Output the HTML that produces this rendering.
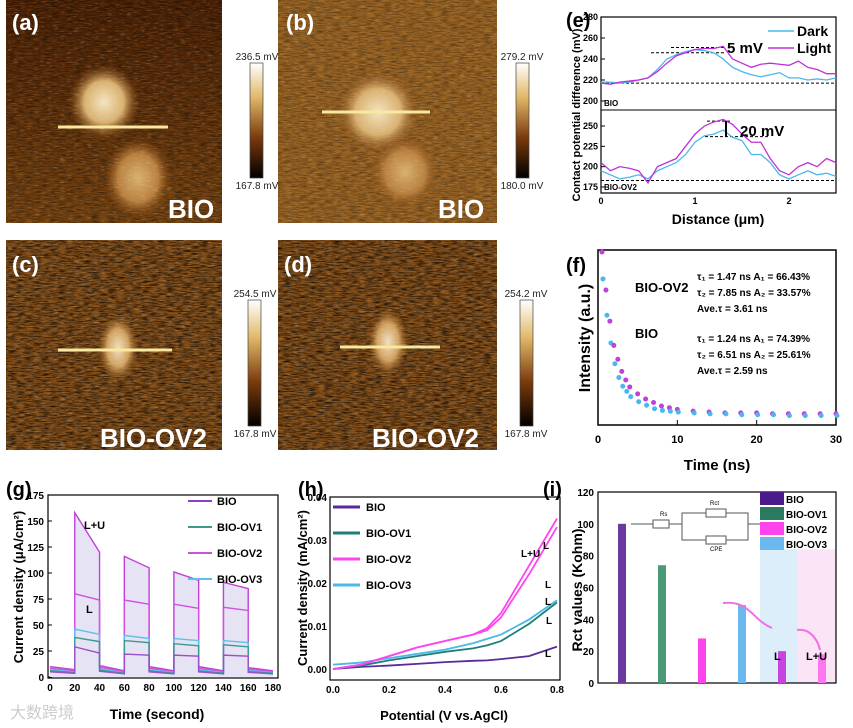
<!DOCTYPE html>
<html><head><meta charset="utf-8"><style>
body{margin:0;background:#fff;width:853px;height:723px;overflow:hidden;font-family:"Liberation Sans",sans-serif}
svg text{font-family:"Liberation Sans","Noto Sans CJK SC",sans-serif}
</style></head><body>
<svg id="s" width="853" height="723" viewBox="0 0 853 723">
<defs>
<filter id="noise" x="0" y="0" width="100%" height="100%"><feTurbulence type="fractalNoise" baseFrequency="0.12 0.8" numOctaves="3" seed="3"/><feColorMatrix values="0 0 0 0 0  0 0 0 0 0  0 0 0 0 0  1.6 0 0 0 -0.55"/></filter>
<filter id="noise2" x="0" y="0" width="100%" height="100%"><feTurbulence type="fractalNoise" baseFrequency="0.15 0.9" numOctaves="2" seed="9"/><feColorMatrix values="0 0 0 0 1  0 0 0 0 0.8  0 0 0 0 0.45  2 0 0 0 -1.1"/></filter>
<radialGradient id="blobA" cx="0.5" cy="0.5" r="0.5"><stop offset="0" stop-color="#f4e4c0"/><stop offset="0.55" stop-color="#d8b070"/><stop offset="1" stop-color="#8a4a10" stop-opacity="0"/></radialGradient>
<radialGradient id="blobB" cx="0.5" cy="0.5" r="0.5"><stop offset="0" stop-color="#d8b070"/><stop offset="0.6" stop-color="#b88040"/><stop offset="1" stop-color="#8a4a10" stop-opacity="0"/></radialGradient>
<radialGradient id="blobC" cx="0.5" cy="0.5" r="0.5"><stop offset="0" stop-color="#f0e0c0"/><stop offset="0.55" stop-color="#d0a060"/><stop offset="1" stop-color="#9a5c18" stop-opacity="0"/></radialGradient>
<linearGradient id="shadeA" x1="0" y1="0" x2="0" y2="1"><stop offset="0" stop-color="#4e2206"/><stop offset="1" stop-color="#7a4612"/></linearGradient>
<linearGradient id="cbar" x1="0" y1="0" x2="0" y2="1"><stop offset="0" stop-color="#ffffff"/><stop offset="0.3" stop-color="#e0b868"/><stop offset="0.65" stop-color="#7a3a0c"/><stop offset="1" stop-color="#000"/></linearGradient>
</defs>

<g>
<rect x="6" y="0" width="216" height="223" fill="url(#shadeA)"/><rect x="6" y="0" width="216" height="223" filter="url(#noise)" opacity="0.6"/>
<ellipse cx="104" cy="102" rx="36" ry="38" fill="url(#blobA)"/><ellipse cx="138" cy="178" rx="34" ry="40" fill="url(#blobB)"/>
<rect x="6" y="0" width="216" height="223" filter="url(#noise2)" opacity="0.4"/>
<line x1="58" y1="127" x2="168" y2="127" stroke="#f8e8a0" stroke-width="3"/>
<text x="12" y="30" fill="#fff" font-size="22" font-weight="bold">(a)</text>
<text x="168" y="218" fill="#fff" font-size="26" font-weight="bold">BIO</text></g>
<g>
<rect x="278" y="0" width="219" height="223" fill="#9a6424"/><rect x="278" y="0" width="219" height="223" filter="url(#noise)" opacity="0.5"/>
<ellipse cx="378" cy="112" rx="42" ry="42" fill="url(#blobA)"/><ellipse cx="405" cy="172" rx="34" ry="36" fill="url(#blobB)"/>
<rect x="278" y="0" width="219" height="223" filter="url(#noise2)" opacity="0.4"/>
<line x1="322" y1="112" x2="430" y2="112" stroke="#f8e8a0" stroke-width="3"/>
<text x="286" y="30" fill="#fff" font-size="22" font-weight="bold">(b)</text>
<text x="438" y="218" fill="#fff" font-size="26" font-weight="bold">BIO</text></g>
<g>
<rect x="6" y="240" width="216" height="210" fill="#86501a"/><rect x="6" y="240" width="216" height="210" filter="url(#noise)"/>
<ellipse cx="118" cy="348" rx="20" ry="34" fill="url(#blobC)"/>
<rect x="6" y="240" width="216" height="210" filter="url(#noise2)" opacity="0.5"/>
<line x1="58" y1="350" x2="172" y2="350" stroke="#f8e8a0" stroke-width="3"/>
<text x="12" y="272" fill="#fff" font-size="22" font-weight="bold">(c)</text>
<text x="100" y="447" fill="#fff" font-size="26" font-weight="bold">BIO-OV2</text></g>
<g>
<rect x="278" y="240" width="219" height="210" fill="#86501a"/><rect x="278" y="240" width="219" height="210" filter="url(#noise)"/>
<ellipse cx="388" cy="342" rx="20" ry="34" fill="url(#blobC)"/>
<rect x="278" y="240" width="219" height="210" filter="url(#noise2)" opacity="0.5"/>
<line x1="340" y1="347" x2="440" y2="347" stroke="#f8e8a0" stroke-width="3"/>
<text x="284" y="272" fill="#fff" font-size="22" font-weight="bold">(d)</text>
<text x="372" y="447" fill="#fff" font-size="26" font-weight="bold">BIO-OV2</text></g>

<g font-size="10" fill="#222" text-anchor="middle">
<rect x="250" y="63" width="13" height="115" fill="url(#cbar)" stroke="#444" stroke-width="0.7"/>
<text x="257" y="60">236.5 mV</text><text x="257" y="189">167.8 mV</text>
<rect x="516" y="63" width="13" height="115" fill="url(#cbar)" stroke="#444" stroke-width="0.7"/>
<text x="522" y="60">279.2 mV</text><text x="522" y="189">180.0 mV</text>
<rect x="248" y="300" width="13" height="126" fill="url(#cbar)" stroke="#444" stroke-width="0.7"/>
<text x="255" y="297">254.5 mV</text><text x="255" y="437">167.8 mV</text>
<rect x="520" y="300" width="13" height="126" fill="url(#cbar)" stroke="#444" stroke-width="0.7"/>
<text x="526" y="297">254.2 mV</text><text x="526" y="437">167.8 mV</text>
</g>

<text x="566" y="27" font-size="20" font-weight="bold">(e)</text>
<text x="566" y="272" font-size="20" font-weight="bold">(f)</text>
<text x="6" y="496" font-size="20" font-weight="bold">(g)</text>
<text x="298" y="496" font-size="20" font-weight="bold">(h)</text>
<text x="543" y="496" font-size="20" font-weight="bold">(i)</text>
<g id="plots"></g>
<text x="10" y="718" font-size="16" fill="#ccc">大数跨境</text>
</svg>
<script>
const eDist=[0,0.1,0.2,0.3,0.4,0.5,0.6,0.7,0.8,0.9,1.0,1.1,1.2,1.3,1.4,1.5,1.6,1.7,1.8,1.9,2.0,2.1,2.2,2.3,2.4,2.5];
const eTopDark=[218,218,217,218,220,222,230,240,244,247,249,248,246,240,232,228,225,223,225,227,222,222,220,221,220,222];
const eTopLight=[217,216,218,219,220,222,228,236,243,246,249,250,250,252,240,236,232,235,236,235,234,238,232,230,226,226];
const eBotDark=[195,190,185,187,190,185,195,200,205,215,230,238,240,245,236,232,215,215,205,190,185,190,195,190,192,188];
const eBotLight=[205,195,200,198,195,180,200,205,210,225,240,250,255,258,252,240,230,230,210,195,190,200,205,200,210,205];
const fTime=[0.5,1,1.5,2,2.5,3,3.5,4,5,6,7,8,9,10,12,14,16,18,20,22,24,26,28,30];
const fOV2=[100,78,60,46,38,31,26,22,18,15,13,11,10,9,8,7.5,7,7,7,6.5,6.5,6.5,6.5,6.5];
const fBIO=[85,64,48,36,28,23,20,17,14,12,10,9,8.5,8,7.5,7,7,6.5,6.5,6.5,6,6,6,6];
const gOnStart=[20,60,100,140];
const gLU=[[158,120],[116,105],[101,93],[91,85]];
const gL=[[80,74],[74,70],[70,66],[67,64]];
const gOV3=[[46,41],[40,37],[37,35],[35,33]];
const gOV1=[[38,34],[35,33],[32,30],[31,29]];
const gBIO=[[29,23],[22,21],[21,20],[21,20]];
const gDark=[[10,7],[11,6],[10,6],[10,6],[9,6]];
const hPot=[0,0.1,0.2,0.3,0.4,0.5,0.55,0.6,0.7,0.8];
const hOV2=[0,0.001,0.003,0.005,0.0065,0.008,0.0095,0.013,0.024,0.035];
const hOV2L=[0,0.001,0.003,0.005,0.0065,0.008,0.009,0.012,0.022,0.033];
const hOV3=[0.001,0.0015,0.0025,0.0035,0.0045,0.006,0.007,0.008,0.0115,0.016];
const hOV1=[0,0.0008,0.002,0.003,0.004,0.0048,0.0055,0.0065,0.0105,0.0155];
const hBIO=[0,0.0005,0.0008,0.0012,0.0016,0.0019,0.002,0.0023,0.003,0.0052];
const iCats=["BIO","BIO-OV1","BIO-OV2","BIO-OV3","L","L+U"];
const iVals=[100,74,28,49,20,18];
const iCols=["#6a3a9e","#4a9a78","#ff44ee","#6ab8ee","#c844e0","#ff77f0"];

const NS="http://www.w3.org/2000/svg", root=document.getElementById('plots');
function mk(t,a,p){const e=document.createElementNS(NS,t);for(const k in a)e.setAttribute(k,a[k]);(p||root).appendChild(e);return e;}
function txt(x,y,s,a,p){const e=mk('text',Object.assign({x:x,y:y},a||{}),p);e.textContent=s;return e;}
function lin(d0,d1,r0,r1){return v=>r0+(v-d0)/(d1-d0)*(r1-r0);}
function poly(xs,ys,fx,fy,col,w,name){const e=mk('polyline',{points:xs.map((x,i)=>fx(x)+','+fy(ys[i])).join(' '),fill:'none',stroke:col,'stroke-width':w});

return e;}

// (e)
const ex=lin(0,2.5,601,836), eyT=lin(200,280,101,17), eyB=lin(175,250,187,126);
mk('rect',{x:601,y:17,width:235,height:176,fill:'none',stroke:'#000','stroke-width':1.2});
mk('line',{x1:601,y1:110,x2:836,y2:110,stroke:'#000'});
[200,220,240,260,280].forEach(v=>{txt(598,eyT(v)+3,v,{'font-size':9,'font-weight':'bold','text-anchor':'end'});mk('line',{x1:601,x2:605,y1:eyT(v),y2:eyT(v),stroke:'#000'});});
[175,200,225,250].forEach(v=>{txt(598,eyB(v)+3,v,{'font-size':9,'font-weight':'bold','text-anchor':'end'});mk('line',{x1:601,x2:605,y1:eyB(v),y2:eyB(v),stroke:'#000'});});
[0,1,2].forEach(v=>txt(ex(v),204,v,{'font-size':9,'font-weight':'bold','text-anchor':'middle'}));
[[217,eyT],[246,eyT],[251,eyT],[183,eyB],[237,eyB],[256,eyB]].forEach((d,i)=>{const x0=[601,651,671,601,705,707][i],x1=[836,725,725,836,770,730][i];mk('line',{x1:x0,x2:x1,y1:d[1](d[0]),y2:d[1](d[0]),stroke:'#000','stroke-dasharray':'3,2'});});
poly(eDist,eTopDark,ex,eyT,'#4ab8ee',1.3,'e-top-dark-line');
poly(eDist,eTopLight,ex,eyT,'#c030d8',1.3,'e-top-light-line');
poly(eDist,eBotDark,ex,eyB,'#4ab8ee',1.3,'e-bottom-dark-line');
poly(eDist,eBotLight,ex,eyB,'#c030d8',1.3,'e-bottom-light-line');
mk('line',{x1:768,x2:794,y1:31,y2:31,stroke:'#4ab8ee','stroke-width':1.5});txt(797,36,'Dark',{'font-size':14,'font-weight':'bold'});
mk('line',{x1:768,x2:794,y1:48,y2:48,stroke:'#c030d8','stroke-width':1.5});txt(797,53,'Light',{'font-size':14,'font-weight':'bold'});
txt(727,53,'5 mV',{'font-size':15,'font-weight':'bold'});txt(740,136,'20 mV',{'font-size':15,'font-weight':'bold'});
mk('line',{x1:726,x2:726,y1:eyB(237),y2:eyB(256),stroke:'#000','stroke-width':2});
txt(604,106,'BIO',{'font-size':8,'font-weight':'bold'});txt(604,190,'BIO-OV2',{'font-size':8,'font-weight':'bold'});
txt(-115,580,'Contact potential difference (mV)',{'font-size':11,'font-weight':'bold','text-anchor':'middle',transform:'rotate(-90)'});
txt(718,224,'Distance (μm)',{'font-size':14,'font-weight':'bold','text-anchor':'middle'});

// (f)
const fx=lin(0,30,598,836), fy=lin(0,100,425,252);
mk('rect',{x:598,y:250,width:238,height:175,fill:'none',stroke:'#000','stroke-width':1.5});
[0,10,20,30].forEach(v=>{txt(fx(v),443,v,{'font-size':11,'font-weight':'bold','text-anchor':'middle'});mk('line',{x1:fx(v),x2:fx(v),y1:425,y2:420,stroke:'#000'});});
fTime.forEach((t,i)=>{const c=mk('circle',{cx:fx(t),cy:fy(fOV2[i]),r:2.5,fill:'#c040d8'});


const d=mk('circle',{cx:fx(t)+1,cy:fy(fBIO[i])+1,r:2.5,fill:'#4ab8ee'});

});
txt(635,292,'BIO-OV2',{'font-size':13,'font-weight':'bold'});txt(635,338,'BIO',{'font-size':13,'font-weight':'bold'});
[['τ₁ = 1.47 ns A₁ = 66.43%',280],['τ₂ = 7.85 ns A₂ = 33.57%',296],['Ave.τ = 3.61 ns',312],['τ₁ = 1.24 ns A₁ = 74.39%',342],['τ₂ = 6.51 ns A₂ = 25.61%',358],['Ave.τ = 2.59 ns',374]].forEach(d=>txt(697,d[1],d[0],{'font-size':10,'font-weight':'bold'}));
txt(-338,590,'Intensity (a.u.)',{'font-size':16,'font-weight':'bold','text-anchor':'middle',transform:'rotate(-90)'});
txt(717,470,'Time (ns)',{'font-size':15,'font-weight':'bold','text-anchor':'middle'});

// (g)
const gx=lin(0,180,50,273), gy=lin(0,175,677,495);
mk('rect',{x:48,y:495,width:230,height:183,fill:'none',stroke:'#000','stroke-width':1.2});
[0,25,50,75,100,125,150,175].forEach(v=>{txt(44,gy(v)+4,v,{'font-size':10,'font-weight':'bold','text-anchor':'end'});mk('line',{x1:48,x2:52,y1:gy(v),y2:gy(v),stroke:'#000'});});
[0,20,40,60,80,100,120,140,160,180].forEach(v=>txt(gx(v),691,v,{'font-size':10,'font-weight':'bold','text-anchor':'middle'}));
function gSeries(arr,col,name,fill,dscale){let pts=[];gOnStart.forEach((s,i)=>{const dk=gDark[i];pts.push([s-20,dk[0]*dscale],[s,dk[1]*dscale]);pts.push([s,arr[i][0]],[s+20,arr[i][1]]);});pts.push([160,gDark[4][0]*dscale],[180,gDark[4][1]*dscale]);
if(fill){const p=mk('polygon',{points:pts.map(q=>gx(q[0])+','+gy(q[1])).join(' ')+' '+gx(180)+','+gy(0)+' '+gx(0)+','+gy(0),fill:'#e6e4f4'});}
poly(pts.map(q=>q[0]),pts.map(q=>q[1]),gx,gy,col,1.4,name);}
gSeries(gLU,'#c040d8','g-ov2-lu-line',true,1);
gSeries(gL,'#d050e0','g-ov2-l-line',false,0.85);
gSeries(gOV3,'#5ec0e8','g-ov3-line',false,0.7);
gSeries(gOV1,'#3a9a90','g-ov1-line',false,0.6);
gSeries(gBIO,'#9a50c8','g-bio-line',false,0.5);
txt(84,529,'L+U',{'font-size':11,'font-weight':'bold'});txt(86,613,'L',{'font-size':11,'font-weight':'bold'});
[['BIO','#8a40c8'],['BIO-OV1','#3a9a90'],['BIO-OV2','#d050e0'],['BIO-OV3','#5ec0e8']].forEach((d,i)=>{const y=501+i*26;mk('line',{x1:188,x2:212,y1:y,y2:y,stroke:d[1],'stroke-width':2});txt(217,y+4,d[0],{'font-size':11,'font-weight':'bold'});});
txt(-587,23,'Current density (μA/cm²)',{'font-size':13,'font-weight':'bold','text-anchor':'middle',transform:'rotate(-90)'});
txt(157,719,'Time (second)',{'font-size':14,'font-weight':'bold','text-anchor':'middle'});

// (h)
const hx=lin(0,0.8,333,557), hy=lin(0,0.04,669,497);
mk('rect',{x:330,y:497,width:230,height:183,fill:'none',stroke:'#000','stroke-width':1.2});
[0,0.01,0.02,0.03,0.04].forEach(v=>txt(327,hy(v)+4,v.toFixed(2),{'font-size':10,'font-weight':'bold','text-anchor':'end'}));
[0,0.2,0.4,0.6,0.8].forEach(v=>txt(hx(v),693,v.toFixed(1),{'font-size':10,'font-weight':'bold','text-anchor':'middle'}));
poly(hPot,hBIO,hx,hy,'#5a2a9a',1.8,'h-bio-line');
poly(hPot,hOV1,hx,hy,'#1f7f78',1.8,'h-ov1-line');
poly(hPot,hOV3,hx,hy,'#4ab8e8',1.8,'h-ov3-line');
poly(hPot,hOV2L,hx,hy,'#ff44ee',1.8,'h-ov2-l-line');
poly(hPot,hOV2,hx,hy,'#ff44ee',1.8,'h-ov2-lu-line');
[['BIO','#5a2a9a'],['BIO-OV1','#1f7f78'],['BIO-OV2','#ff44ee'],['BIO-OV3','#4ab8e8']].forEach((d,i)=>{const y=507+i*26;mk('line',{x1:333,x2:360,y1:y,y2:y,stroke:d[1],'stroke-width':3});txt(366,y+4,d[0],{'font-size':11,'font-weight':'bold'});});
txt(521,557,'L+U',{'font-size':10,'font-weight':'bold'});
[[545,605],[545,588],[545,657],[543,549],[546,624]].forEach(p=>txt(p[0],p[1],'L',{'font-size':10,'font-weight':'bold'}));
txt(-588,307,'Current density (mA/cm²)',{'font-size':13,'font-weight':'bold','text-anchor':'middle',transform:'rotate(-90)'});
txt(444,720,'Potential (V vs.AgCl)',{'font-size':13,'font-weight':'bold','text-anchor':'middle'});

// (i)
const iy=lin(0,120,683,492), ix=i=>622+i*40;
mk('rect',{x:760,y:iy(84),width:37,height:683-iy(84),fill:'#dceefa'});
mk('rect',{x:797,y:iy(84),width:39,height:683-iy(84),fill:'#fbe4f6'});
mk('rect',{x:598,y:492,width:238,height:191,fill:'none',stroke:'#000','stroke-width':1.2});
[0,20,40,60,80,100,120].forEach(v=>txt(594,iy(v)+4,v,{'font-size':10,'font-weight':'bold','text-anchor':'end'}));
iVals.forEach((v,i)=>{const r=mk('rect',{x:ix(i)-4,y:iy(v),width:8,height:683-iy(v),fill:iCols[i]});

});
txt(774,660,'L',{'font-size':11,'font-weight':'bold'});txt(806,660,'L+U',{'font-size':11,'font-weight':'bold'});
mk('path',{d:'M723,603 C750,600 752,620 772,628 M797,630 C810,628 818,640 820,650',fill:'none',stroke:'#f070e8','stroke-width':2});
[['BIO','#4a1a8a'],['BIO-OV1','#2a7a60'],['BIO-OV2','#ff44ee'],['BIO-OV3','#6ab8ee']].forEach((d,i)=>{mk('rect',{x:760,y:492+i*15,width:24,height:13,fill:d[1]});txt(786,503+i*15,d[0],{'font-size':10,'font-weight':'bold'});});
mk('path',{d:'M631,524 H653 M669,524 H682 V513 H748 V540 H682 V524 M748,524 H760',fill:'none',stroke:'#555'});
mk('rect',{x:653,y:520,width:16,height:8,fill:'#fff',stroke:'#555'});mk('rect',{x:706,y:509,width:20,height:8,fill:'#fff',stroke:'#555'});mk('rect',{x:706,y:536,width:20,height:8,fill:'#fff',stroke:'#555'});
txt(660,516,'Rs',{'font-size':6});txt(710,505,'Rct',{'font-size':6});txt(710,551,'CPE',{'font-size':6});
txt(-590,582,'Rct values (Kohm)',{'font-size':14,'font-weight':'bold','text-anchor':'middle',transform:'rotate(-90)'});
</script>
</body></html>
